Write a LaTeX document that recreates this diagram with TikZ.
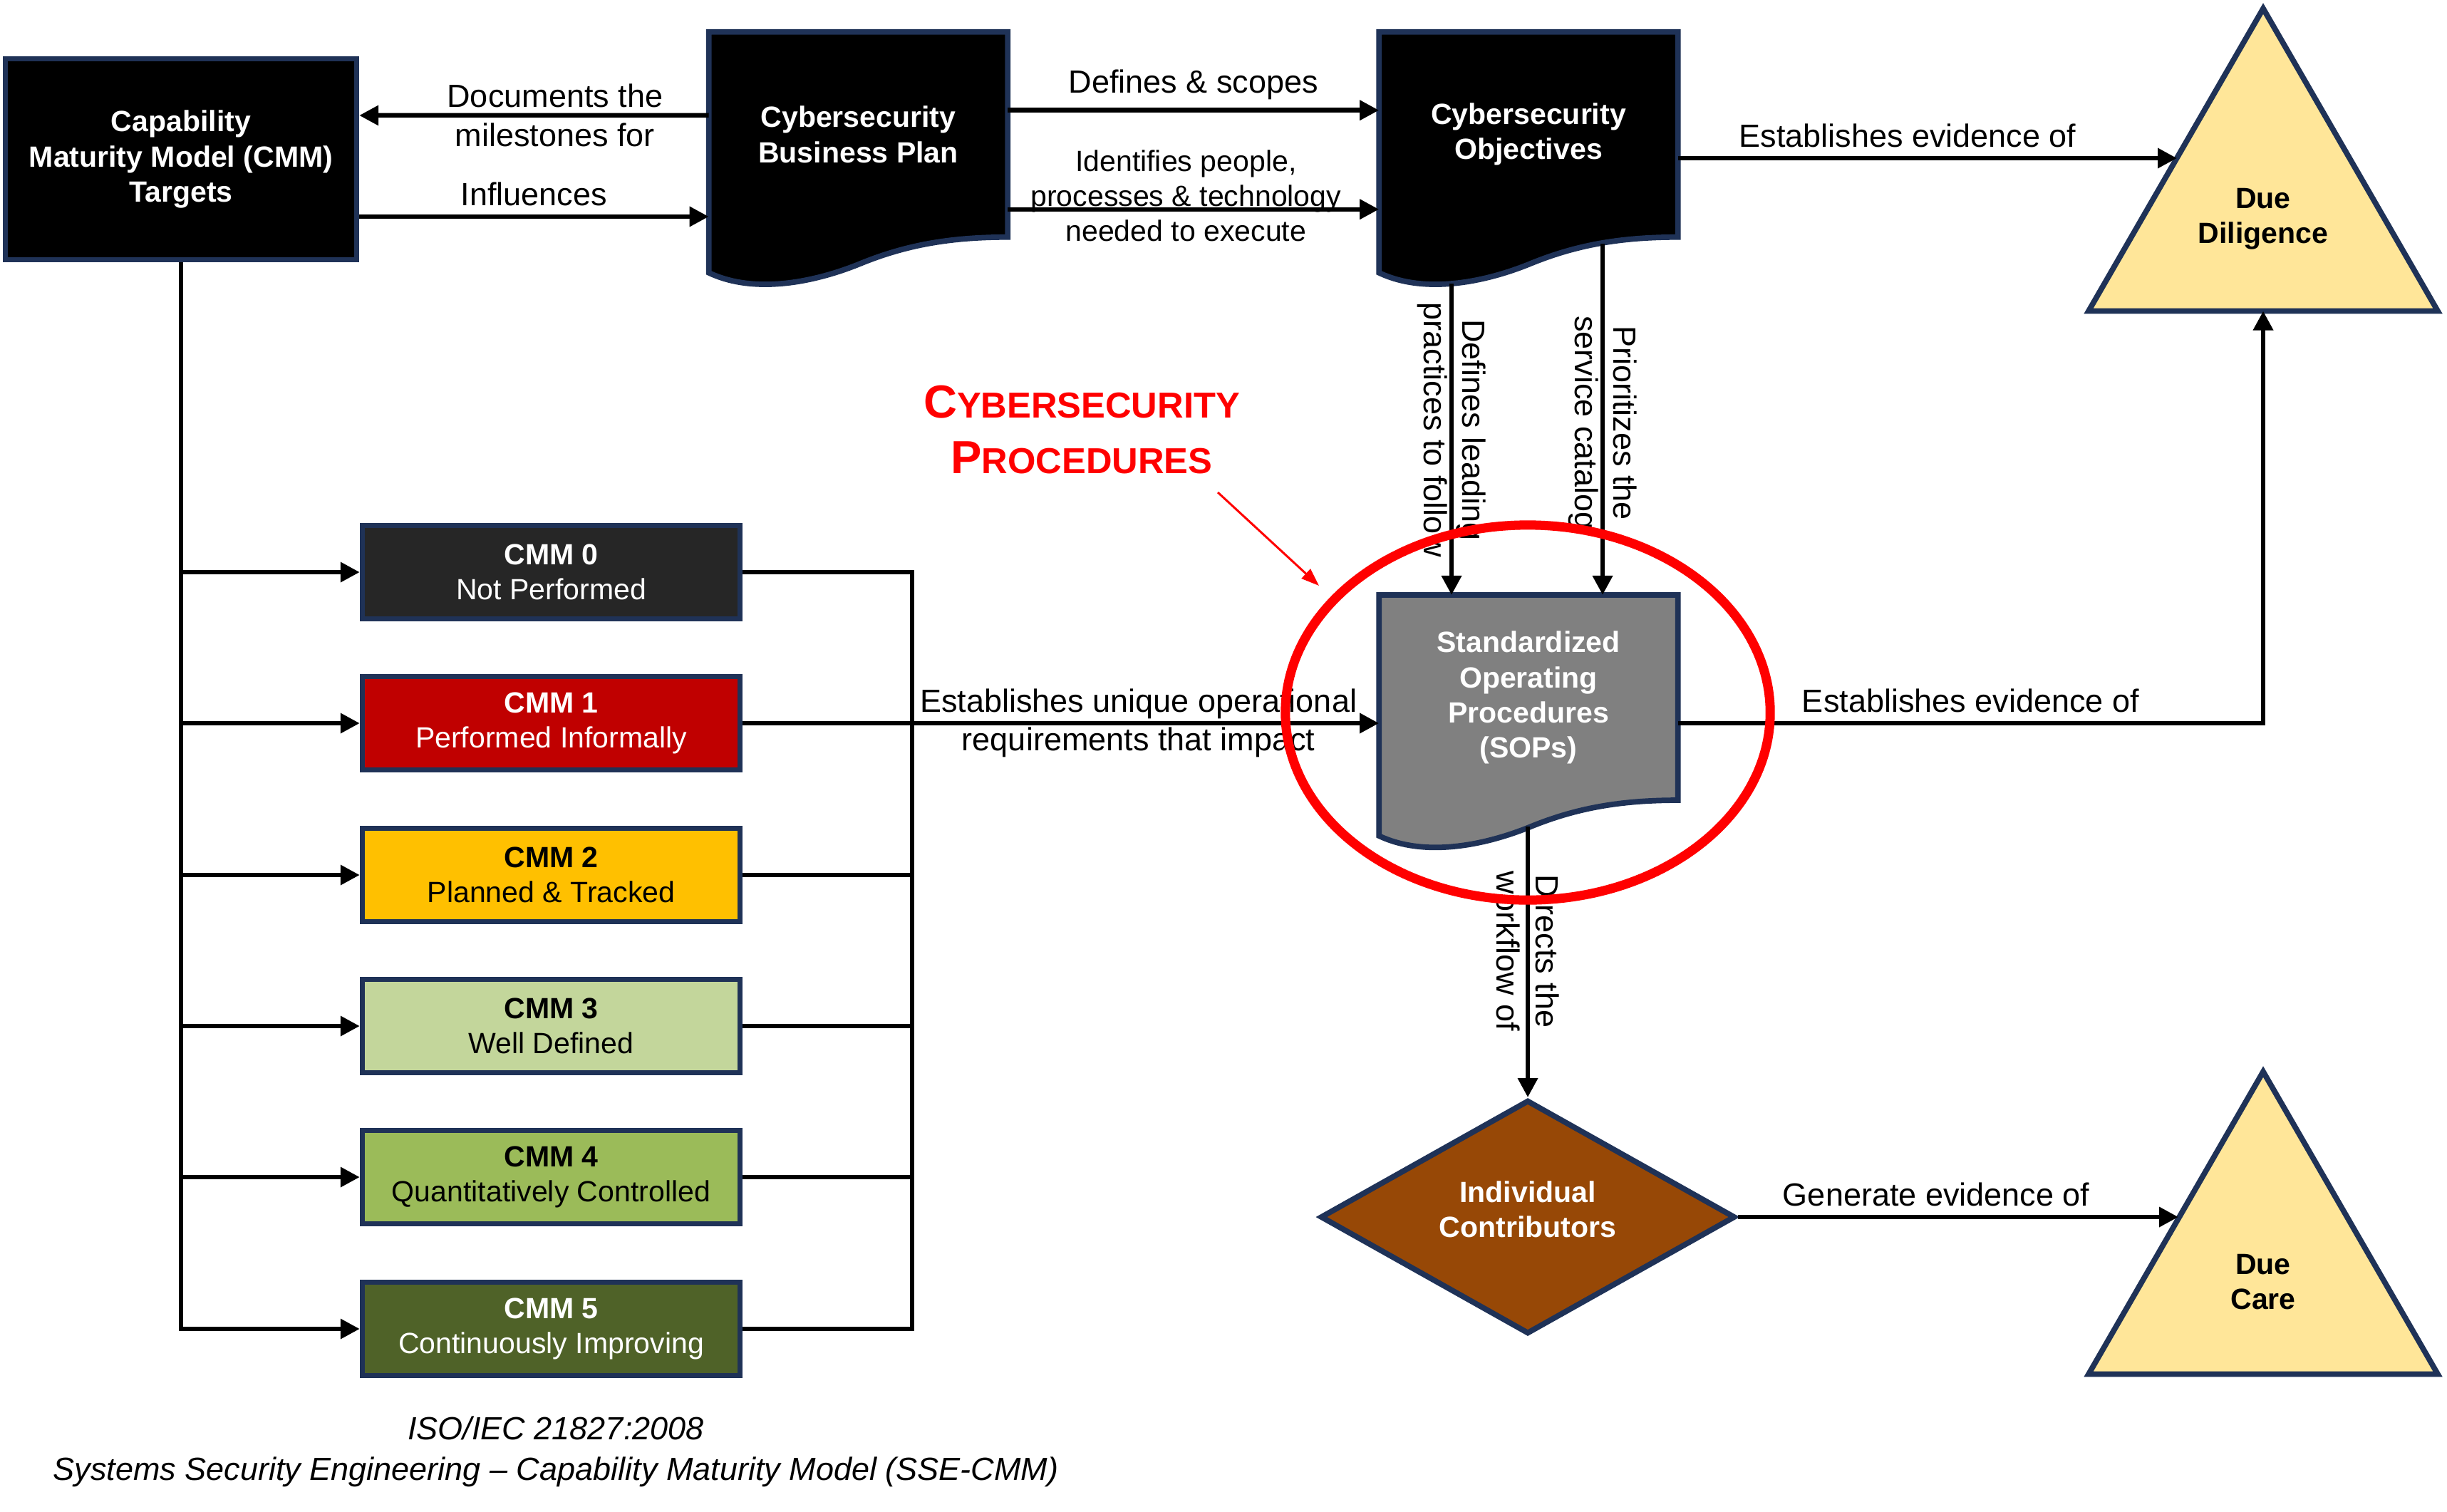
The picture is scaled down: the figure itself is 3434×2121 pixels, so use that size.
\documentclass[tikz,border=0pt]{standalone}
\usepackage{fontspec}
\setmainfont{Liberation Sans}
\usetikzlibrary{arrows.meta,shapes.geometric,calc,backgrounds}
\definecolor{navy}{HTML}{1F3257}
\definecolor{duegold}{HTML}{FFE699}
\definecolor{sopgray}{HTML}{808080}
\definecolor{icbrown}{HTML}{974806}
\definecolor{cmmzero}{HTML}{262626}
\definecolor{cmmone}{HTML}{C00000}
\definecolor{cmmtwo}{HTML}{FFC000}
\definecolor{cmmthree}{HTML}{C3D69B}
\definecolor{cmmfour}{HTML}{9BBB59}
\definecolor{cmmfive}{HTML}{4F6228}

\begin{document}
\begin{tikzpicture}[x=0.01cm,y=-0.01cm,
  line/.style={line width=1.85pt},
  arr/.style={line width=1.85pt,-{Triangle[length=0.27cm,width=0.27cm]}},
  lbl/.style={font=\fontsize{12.8}{15.4}\selectfont,align=center},
  boxtxt/.style={font=\fontsize{11.67}{14}\selectfont\bfseries,align=center},
  cmmbox/.style={draw=navy,line width=2pt,minimum width=5.3cm,minimum height=1.31cm,inner sep=0pt,align=center,font=\fontsize{11.67}{14}\selectfont},
  docbox/.style={minimum width=4.18cm,minimum height=2.865cm,inner sep=0pt,boxtxt,text=white},
  shapeline/.style={draw=navy,line width=2.2pt}]
\useasboundingbox (0,0) rectangle (3434,2121);
\node[draw=navy,line width=2pt,fill=black,minimum width=4.93cm,minimum height=2.82cm,inner sep=0pt,boxtxt,text=white] (targets) at (254,223.5) {Capability\\Maturity Model (CMM)\\Targets};
\node[docbox] (plan) at (1204.5,188.75) {Cybersecurity\\Business Plan};
\node[docbox] (obj) at (2145,188.75) {Cybersecurity\\Objectives};
\node[docbox] (sop) at (2145,979) {Standardized\\Operating\\Procedures\\(SOPs)};
\node[diamond,draw=navy,line width=2.2pt,fill=icbrown,minimum width=5.82cm,minimum height=3.28cm,aspect=1.77,inner sep=0pt,text depth=6pt,boxtxt,text=white] (ic) at (2144,1708) {Individual\\Contributors};
\node[boxtxt] (dd) at (3176,307) {Due\\Diligence};
\node[boxtxt] (dc) at (3176,1799) {Due\\Care};
\node[cmmbox,fill=cmmzero,text=white] (cmm0) at (773.5,803) {\textbf{CMM 0}\\Not Performed};
\node[cmmbox,fill=cmmone,text=white] (cmm1) at (773.5,1015) {\textbf{CMM 1}\\Performed Informally};
\node[cmmbox,fill=cmmtwo] (cmm2) at (773.5,1228) {\textbf{CMM 2}\\Planned \& Tracked};
\node[cmmbox,fill=cmmthree] (cmm3) at (773.5,1440) {\textbf{CMM 3}\\Well Defined};
\node[cmmbox,fill=cmmfour] (cmm4) at (773.5,1652) {\textbf{CMM 4}\\Quantitatively Controlled};
\node[cmmbox,fill=cmmfive,text=white] (cmm5) at (773.5,1865) {\textbf{CMM 5}\\Continuously Improving};
\node[text=red,font=\fontsize{14.4}{22.2}\selectfont\bfseries,align=center] (title) at (1518,603) {{\fontsize{18.5}{22.2}\selectfont C}YBERSECURITY\\{\fontsize{18.5}{22.2}\selectfont P}ROCEDURES};
\node[font=\fontsize{12.8}{16.2}\selectfont\itshape,align=center] (iso) at (780,2037) {ISO/IEC 21827:2008\\Systems Security Engineering – Capability Maturity Model (SSE-CMM)};
\coordinate (dd-w) at (3055,222);
\coordinate (dd-s) at (3176,436.5);
\coordinate (dc-w) at (3057,1708);
\coordinate (obj-b1) at (2037,398);
\coordinate (obj-b2) at (2249,342);
\coordinate (sop-b) at (2144,1160);
\coordinate (bus-r) at (1280,0);
\coordinate (ra-s) at (1709,691);
\coordinate (ra-e) at (1851,822);
\begin{scope}[on background layer]
\fill[white] (0,0) rectangle (3434,2121);
\draw[shapeline,fill=black] (plan.north west) -- (plan.north east) -- (plan.south east)
  .. controls ($(plan.south east)+(-84,0)$) and ($(plan.south east)+(-146,12)$) .. ($(plan.south east)+(-209,38)$)
  .. controls ($(plan.south west)+(146,64)$) and ($(plan.south west)+(63,80)$) .. ($(plan.south west)+(0,50)$) -- cycle;
\draw[shapeline,fill=black] (obj.north west) -- (obj.north east) -- (obj.south east)
  .. controls ($(obj.south east)+(-84,0)$) and ($(obj.south east)+(-146,12)$) .. ($(obj.south east)+(-209,38)$)
  .. controls ($(obj.south west)+(146,64)$) and ($(obj.south west)+(63,80)$) .. ($(obj.south west)+(0,50)$) -- cycle;
\draw[shapeline,fill=sopgray] (sop.north west) -- (sop.north east) -- (sop.south east)
  .. controls ($(sop.south east)+(-84,0)$) and ($(sop.south east)+(-146,12)$) .. ($(sop.south east)+(-209,38)$)
  .. controls ($(sop.south west)+(146,64)$) and ($(sop.south west)+(63,80)$) .. ($(sop.south west)+(0,50)$) -- cycle;
\draw[shapeline,fill=duegold] (3176,12) -- (2931,436.5) -- (3421,436.5) -- cycle;
\draw[shapeline,fill=duegold] (3176,1504) -- (2931,1928.5) -- (3421,1928.5) -- cycle;
\end{scope}
\draw[arr] ($(plan.west)+(0,-27)$) -- ($(targets.east)+(0,-61.5)$) node[lbl,pos=0.44] (lb-doc) {Documents the\\milestones for};
\draw[arr] ($(targets.east)+(0,80.5)$) -- ($(plan.west)+(0,115.25)$) node[lbl,midway,above] (lb-inf) {Influences};
\draw[arr] ($(plan.east)+(0,-34)$) -- ($(obj.west)+(0,-34)$) node[lbl,midway,above] (lb-def) {Defines \& scopes};
\draw[arr] ($(plan.east)+(0,105)$) -- ($(obj.west)+(0,105)$) node[lbl,font=\fontsize{11.67}{14}\selectfont,pos=0.48,yshift=0.19cm] (lb-ident) {Identifies people,\\processes \& technology\\needed to execute};
\draw[arr] (obj.east |- dd-w) -- (dd-w) node[lbl,pos=0.46,above] (lb-dd1) {Establishes evidence of};
\draw[arr] (obj-b1) -- (obj-b1 |- sop.north) node[lbl,pos=0.47,rotate=-90] (lb-lead) {Defines leading\\practices to follow};
\draw[arr] (obj-b2) -- (obj-b2 |- sop.north) node[lbl,pos=0.51,rotate=-90] (lb-prio) {Prioritizes the\\service catalog};
\draw[arr] (targets.south) |- (cmm5.west);
\draw[arr] (targets.south |- cmm0) -- (cmm0.west);
\draw[arr] (targets.south |- cmm1) -- (cmm1.west);
\draw[arr] (targets.south |- cmm2) -- (cmm2.west);
\draw[arr] (targets.south |- cmm3) -- (cmm3.west);
\draw[arr] (targets.south |- cmm4) -- (cmm4.west);
\draw[line] (cmm0.east) -| (cmm5.east -| bus-r) -- (cmm5.east);
\draw[line] (cmm2.east) -- (cmm2.east -| bus-r);
\draw[line] (cmm3.east) -- (cmm3.east -| bus-r);
\draw[line] (cmm4.east) -- (cmm4.east -| bus-r);
\draw[arr] (cmm1.east) -- (cmm1 -| sop.west) node[lbl,pos=0.622] (lb-req) {Establishes unique operational\\requirements that impact};
\draw[arr] (cmm1 -| sop.east) -| (dd-s) node[lbl,pos=0.25,above] (lb-dd2) {Establishes evidence of};
\draw[arr] (sop-b) -- (ic.north) node[lbl,pos=0.46,rotate=-90] (lb-dir) {Directs the\\workflow of};
\draw[arr] (ic.east) -- (dc-w) node[lbl,pos=0.45,above] (lb-dc) {Generate evidence of};
\draw[red,line width=0.85pt,-{Triangle[length=0.25cm,width=0.18cm]}] (ra-s) -- (ra-e);
\draw[red,line width=3.7pt] (2144,1000) ellipse [x radius=3.4cm,y radius=2.63cm];
\end{tikzpicture}
\end{document}
